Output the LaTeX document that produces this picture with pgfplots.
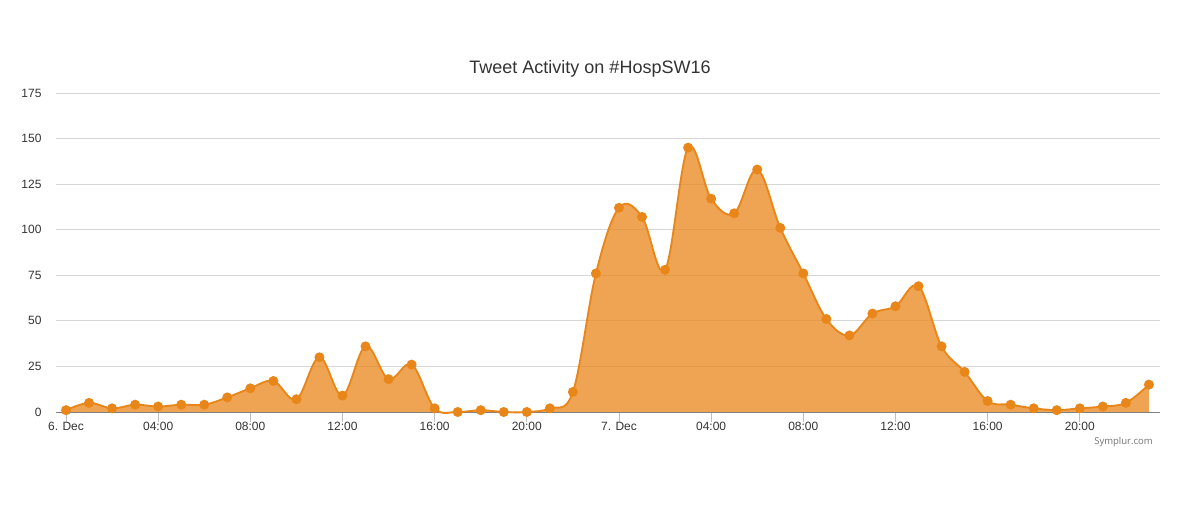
\documentclass[border=0pt]{standalone}
\usepackage{pgfplots}
\pgfplotsset{compat=1.18}
\usepackage{fontspec}
\setmainfont{Liberation Sans}
\newfontfamily\credit{Open Sans}
\definecolor{org}{HTML}{E8861A}
\definecolor{txt}{HTML}{333333}
\pgfplotstableread{
h v
0 1
1 5
2 2
3 4
4 3
5 4
6 4
7 8
8 13
9 17
10 7
11 30
12 9
13 36
14 18
15 26
16 2
17 0
18 1
19 0
20 0
21 2
22 11
23 76
24 112
25 107
26 78
27 145
28 117
29 109
30 133
31 101
32 76
33 51
34 42
35 54
36 58
37 69
38 36
39 22
40 6
41 4
42 2
43 1
44 2
45 3
46 5
47 15
}\tweets
\begin{document}
\begin{tikzpicture}[x=1pt,y=1pt]
\useasboundingbox (0,0) rectangle (1193,513);
\begin{axis}[at={(56pt,101pt)},anchor=south west,width=1104pt,height=319pt,scale only axis,
 xmin=-0.434,xmax=47.48,ymin=0,ymax=175,
 axis x line=bottom,axis y line=left,
 y axis line style={draw=none},x axis line style={-,draw=black!50,line width=0.9pt},
 ytick={0,25,50,75,100,125,150,175},
 ymajorgrids,grid style={draw=black!16,line width=0.9pt},
 xtick={0,4,...,44},
 xticklabels={6. Dec,04:00,08:00,12:00,16:00,20:00,7. Dec,04:00,08:00,12:00,16:00,20:00},
 tick align=outside,major tick length=10pt,
 x tick style={draw=black!25,line width=0.9pt},
 y tick style={draw=none},
 tick label style={font=\fontsize{12}{14}\selectfont,text=txt},
 yticklabel style={/pgf/number format/assume math mode=true,xshift=-1pt},
 xticklabel style={yshift=3.5pt},
 title={Tweet Activity on \#HospSW16},
 title style={font=\fontsize{18}{21}\selectfont,text=txt,at={(534pt,337pt)},anchor=center},
 clip=false,axis on top=false,
 ]
\addplot[smooth,tension=0.6,draw=none,fill=org,fill opacity=0.75] table[x=h,y=v] {\tweets} \closedcycle;
\addplot[smooth,tension=0.6,draw=org,line width=1.9pt,mark=*,mark size=4pt,mark options={draw=none,fill=org}] table[x=h,y=v] {\tweets};
\end{axis}
\node[anchor=center,font=\credit\fontsize{9.5}{11}\selectfont,text=black!55] at (1123.5,71) {Symplur.com};
\end{tikzpicture}
\end{document}
